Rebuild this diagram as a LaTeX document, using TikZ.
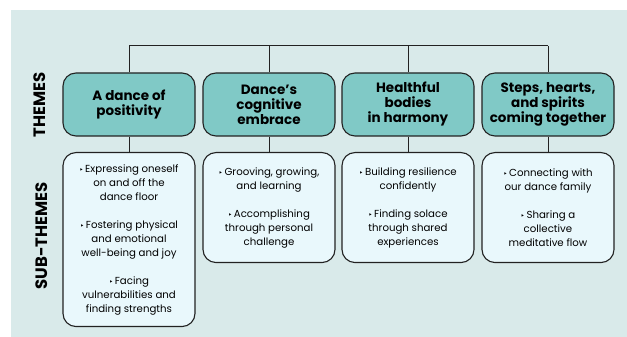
\documentclass[tikz,border=0pt]{standalone}
\usepackage{fontspec}
\setmainfont{Poppins}
\newfontfamily\bulletfont{DejaVu Sans}
\definecolor{backcol}{HTML}{D9EAEA}
\definecolor{themecol}{HTML}{80C9C6}
\definecolor{subcol}{HTML}{E9F8FC}
\definecolor{linecol}{HTML}{222222}
\newcommand{\bul}{{\bulletfont\fontsize{7}{7}\selectfont ‣}\,}
\tikzset{
    themebox/.style={draw=linecol, fill=themecol, line width=1.1pt, rounded corners=13pt,
        minimum width=132pt, minimum height=63pt, align=center, inner sep=1pt,
        font=\bfseries\fontsize{13.5}{15}\selectfont},
    subbox/.style={draw=linecol, fill=subcol, line width=1.1pt, rounded corners=13pt,
        minimum width=132pt, align=center, inner sep=2pt, anchor=north,
        font=\fontsize{10.2}{14}\selectfont},
    sidelabel/.style={rotate=90, font=\bfseries\fontsize{16.5}{18}\selectfont}
}
\begin{document}
\begin{tikzpicture}[x=1pt, y=1pt, line width=1pt]
    \fill[backcol] (11,0) rectangle (627,327);
    \useasboundingbox (0,0) rectangle (627,337);

    % side labels
    \node[sidelabel] (themes) at (40,232) {THEMES};
    \node[sidelabel] (subthemes) at (42,101) {SUB-THEMES};

    % themes
    \node[themebox] (t1) at (129,232.5) {A dance of\\positivity};
    \node[themebox] (t2) at (269,232.5) {Dance’s\\cognitive\\embrace};
    \node[themebox] (t3) at (408,232.5) {Healthful\\bodies\\in harmony};
    \node[themebox] (t4) at (548,232.5) {Steps, hearts,\\and spirits\\coming together};

    % sub-themes
    \node[subbox, minimum height=174pt] (s1) at (129,185)
        {\bul Expressing oneself\\on and off the\\dance floor\\[14pt]
         \bul Fostering physical\\and emotional\\well-being and joy\\[14pt]
         \bul Facing\\vulnerabilities and\\finding strengths};
    \node[subbox, minimum height=110pt] (s2) at (269,185)
        {\bul Grooving, growing,\\and learning\\[14pt]
         \bul Accomplishing\\through personal\\challenge};
    \node[subbox, minimum height=110pt] (s3) at (408,185)
        {\bul Building resilience\\confidently\\[14pt]
         \bul Finding solace\\through shared\\experiences};
    \node[subbox, minimum height=110pt] (s4) at (548,185)
        {\bul Connecting with\\our dance family\\[14pt]
         \bul Sharing a\\collective\\meditative flow};

    % connectors
    \coordinate (bar) at (0,291);
    \draw[linecol] (t1.north |- bar) -- (t4.north |- bar);
    \foreach \i in {1,...,4}
    {
        \draw[linecol] (t\i.north) -- (t\i.north |- bar);
        \draw[linecol] (t\i.south) -- (s\i.north);
    }
\end{tikzpicture}
\end{document}
